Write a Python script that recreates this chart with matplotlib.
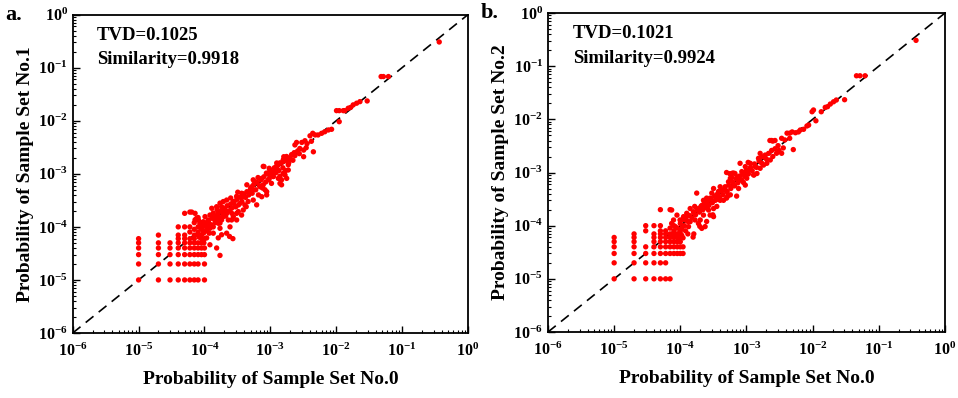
import matplotlib
matplotlib.use("Agg")
import matplotlib.pyplot as plt

plt.rcParams['font.family'] = 'serif'
plt.rcParams['font.serif'] = ['Liberation Serif', 'DejaVu Serif']
plt.rcParams['font.weight'] = 'bold'
plt.rcParams['mathtext.fontset'] = 'custom'
plt.rcParams['mathtext.rm'] = 'Liberation Serif:bold'
plt.rcParams['mathtext.bf'] = 'Liberation Serif:bold'
plt.rcParams['mathtext.it'] = 'Liberation Serif:bold:italic'

# ---- panel a: Sample Set No.0 vs No.1 ----
# low-count grid (column prob -> row probs in units of 1e-5)
grid_a = {1e-5: [1, 2, 3, 4, 5, 6],
          2e-5: [1, 2, 3, 4, 5, 7],
          3e-5: [1, 2, 3, 4, 5],
          4e-5: [1, 2, 3, 4, 5, 6, 7, 10],
          5e-5: [1, 2, 3, 4, 5, 6, 7, 10, 18],
          6e-5: [1, 2, 3, 4, 5, 6, 8, 10, 19],
          7e-5: [1, 2, 3, 4, 5, 6, 7, 9, 12],
          8e-5: [1, 2, 3, 4, 5, 7, 8, 10, 15],
          9e-5: [3, 4, 5, 6, 7, 9, 12],
          1e-4: [1, 2, 3, 4, 6, 8, 11]}

cloud_a_x = [6.4e-5, 7.6e-5, 8.1e-5, 9.6e-5, 1.02e-4, 1.14e-4, 1.21e-4, 1.29e-4, 1.44e-4, 1.53e-4,
             1.62e-4, 1.82e-4, 1.93e-4, 1.82e-4, 1.93e-4, 2.05e-4, 2.17e-4, 2.3e-4, 2.44e-4, 2.58e-4,
             2.74e-4, 2.9e-4, 3.08e-4, 3.26e-4, 3.46e-4, 3.66e-4, 3.88e-4, 3.88e-4, 4.1e-4, 4.4e-4,
             4.6e-4, 4.9e-4, 5.2e-4, 5.5e-4, 5.8e-4, 6.2e-4, 6.6e-4, 7.0e-4, 7.4e-4, 7.8e-4,
             8.3e-4, 8.8e-4, 9.3e-4, 9.9e-4, 1.04e-3, 1.11e-3, 1.17e-3, 1.32e-3, 1.4e-3, 1.57e-3,
             1.67e-3, 1.77e-3, 1.87e-3, 1.48e-3, 8.8e-4, 7.4e-4, 5.5e-4, 2.74e-4, 2.17e-4, 3.08e-4,
             1.36e-4, 1.08e-4, 8.5e-5, 7.2e-5, 1.21e-4, 1.72e-4, 2.58e-4,
             7.2e-5, 8.5e-5, 9.6e-5, 1.08e-4, 1.18e-4, 1.36e-4, 1.53e-4, 1.72e-4, 1.53e-4, 1.72e-4,
             1.36e-4, 1.62e-4, 1.82e-4, 2.17e-4, 2.4e-4, 2.7e-4, 1.53e-4, 1.72e-4, 9.6e-5, 1.08e-4,
             8.3e-5, 9.8e-5, 1.21e-4,
             7.8e-4, 8.7e-4, 9.8e-4, 1.1e-3, 1.24e-3, 1.4e-3, 1.57e-3, 1.76e-3, 1.87e-3, 1.48e-3,
             5.5e-4, 4.4e-4, 4.9e-4, 3.66e-4, 3.07e-4,
             1.0e-4, 1.1e-4, 1.15e-4, 1.25e-4, 1.3e-4, 1.4e-4, 1.45e-4, 1.6e-4, 1.7e-4, 1.75e-4,
             1.9e-4, 2.0e-4, 2.1e-4, 2.2e-4, 2.35e-4, 2.5e-4, 2.6e-4, 2.8e-4, 3.0e-4, 3.1e-4,
             3.3e-4, 3.5e-4, 3.7e-4, 3.9e-4, 4.2e-4, 4.3e-4, 4.7e-4, 5.0e-4, 5.3e-4, 5.6e-4,
             6.0e-4, 6.3e-4, 6.8e-4, 7.2e-4, 7.6e-4, 8.0e-4, 8.5e-4, 9.0e-4, 9.6e-4, 1.02e-3,
             1.08e-3, 1.15e-3, 1.22e-3, 1.3e-3, 1.35e-3, 1.45e-3, 1.55e-3, 1.65e-3, 1.9e-3, 2.0e-3,
             2.3e-3, 2.6e-3, 2.8e-3, 3.6e-3, 4.2e-3, 2.5e-4, 3.2e-4, 1.55e-4, 6.5e-4, 1.25e-3,
             0.366, 0.048, 0.052, 0.062, 0.0295, 0.0229, 0.0204, 0.0181, 0.0165, 0.0152,
             0.0135, 0.0128, 0.0101, 0.0111, 0.0111, 0.0085, 0.0076, 0.0067, 0.0060, 0.0053,
             0.0048, 0.0044, 0.0040, 0.00335, 0.0030, 0.0025, 0.00236, 0.0045, 0.0035, 0.0032,
             0.00275, 0.00236, 0.0022, 0.00187, 0.0016, 0.00157, 0.00137, 0.00125, 0.00096, 0.0008,
             0.0032, 0.0019, 0.0021, 0.0017, 0.0014]
cloud_a_y = [1.9e-4, 1.45e-4, 1.35e-4, 1.25e-4, 1.56e-4, 1.35e-4, 1.67e-4, 2.24e-4, 1.35e-4, 1.56e-4,
             1.17e-4, 1.35e-4, 1.56e-4, 2.4e-4, 3.0e-4, 2.08e-4, 1.8e-4, 1.35e-4, 1.0e-4, 2.24e-4,
             3.0e-4, 2.4e-4, 1.8e-4, 1.94e-4, 2.78e-4, 1.67e-4, 2.08e-4, 3.7e-4, 2.6e-4, 4.6e-4,
             3.0e-4, 4.6e-4, 5.7e-4, 3.2e-4, 7.1e-4, 2.6e-4, 4.0e-4, 5.7e-4, 8.2e-4, 6.2e-4,
             5.0e-4, 4.6e-4, 7.7e-4, 9.5e-4, 6.6e-4, 8.9e-4, 1.18e-3, 8.2e-4, 6.6e-4, 1.02e-3,
             9.5e-4, 8.2e-4, 1.18e-3, 6.2e-4, 4.0e-4, 3.7e-4, 5.0e-4, 1.56e-4, 3.2e-4, 1.35e-4,
             1.0e-4, 1.09e-4, 1.0e-4, 1.8e-4, 9.4e-5, 9.4e-5, 1.35e-4,
             1.36e-4, 1.18e-4, 1.02e-4, 8.8e-5, 7.6e-5, 1.82e-4, 2.4e-4, 2.8e-4, 1.36e-4, 1.18e-4,
             7.6e-5, 6.2e-5, 7.1e-5, 7.6e-5, 6.6e-5, 6.0e-5, 4.0e-5, 2.9e-5, 7.6e-5, 6.2e-5,
             6.4e-5, 5.0e-5, 4.6e-5,
             1.38e-3, 1.03e-3, 1.19e-3, 8.9e-4, 1.38e-3, 1.59e-3, 1.84e-3, 2.12e-3, 1.48e-3, 7.7e-4,
             7.7e-4, 6.2e-4, 4.7e-4, 4.3e-4, 3.75e-4,
             1.2e-4, 1.0e-4, 1.25e-4, 1.1e-4, 1.45e-4, 1.6e-4, 1.2e-4, 1.8e-4, 1.5e-4, 2.0e-4,
             1.75e-4, 2.2e-4, 1.6e-4, 2.5e-4, 2.0e-4, 2.7e-4, 1.8e-4, 2.9e-4, 2.4e-4, 3.3e-4,
             2.6e-4, 3.6e-4, 3.0e-4, 4.2e-4, 3.6e-4, 2.4e-4, 4.0e-4, 5.3e-4, 4.3e-4, 6.3e-4,
             5.0e-4, 6.9e-4, 6.0e-4, 7.7e-4, 5.4e-4, 8.8e-4, 7.0e-4, 1.0e-3, 8.0e-4, 1.1e-3,
             9.7e-4, 1.3e-3, 1.05e-3, 1.45e-3, 1.15e-3, 1.6e-3, 1.3e-3, 1.75e-3, 1.6e-3, 2.0e-3,
             2.5e-3, 2.7e-3, 3.0e-3, 3.7e-3, 4.1e-3, 3.5e-4, 4.5e-4, 2.1e-4, 8.5e-4, 1.6e-3,
             0.305, 0.068, 0.068, 0.068, 0.0236, 0.0229, 0.0214, 0.0199, 0.0178, 0.0172,
             0.0155, 0.0155, 0.0155, 0.0155, 0.0096, 0.0069, 0.0067, 0.0062, 0.0058, 0.0054,
             0.0054, 0.0058, 0.0052, 0.0042, 0.0039, 0.0039, 0.0035, 0.0026, 0.0031, 0.0028,
             0.0024, 0.0022, 0.0018, 0.0018, 0.0021, 0.0017, 0.00158, 0.00137, 0.00127, 0.00137,
             0.0021, 0.0019, 0.0023, 0.00115, 0.0009]

# ---- panel b: Sample Set No.0 vs No.2 ----
grid_b = {1e-5: [1, 2, 3, 4, 5, 6],
          2e-5: [1, 2, 3, 4, 5, 6, 7],
          3e-5: [1, 2, 3, 4, 8, 10],
          4e-5: [1, 2, 3, 4, 5, 6, 7, 10],
          5e-5: [1, 2, 3, 4, 5, 6, 7, 8, 10, 20],
          6e-5: [1, 2, 3, 4, 5, 6, 7, 8],
          7e-5: [1, 3, 4, 5, 6, 7, 9, 20],
          8e-5: [3, 4, 5, 6, 7, 8, 10],
          9e-5: [3, 4, 5, 6, 7, 9],
          1e-4: [3, 4, 5, 6, 7, 8],
          1.1e-4: [3, 4]}

cloud_b_x = [1.61e-3, 1.71e-3, 1.52e-3, 1.92e-3, 2.16e-3, 2.29e-3, 2.03e-3, 1.81e-3, 1.61e-3, 1.44e-3,
             1.28e-3, 1.36e-3, 1.14e-3, 1.07e-3, 9.6e-4, 9.0e-4, 8.0e-4, 8.5e-4, 1.01e-3, 7.2e-4,
             6.7e-4, 6.0e-4, 5.7e-4, 5.35e-4, 6.4e-4, 4.76e-4, 4.5e-4, 5.0e-4, 4.0e-4, 3.78e-4,
             3.56e-4, 3.18e-4, 2.99e-4, 2.82e-4, 3.37e-4, 4.0e-4, 4.5e-4, 2.52e-4, 2.24e-4, 2.11e-4,
             2.0e-4, 1.77e-4, 1.88e-4, 1.58e-4, 1.41e-4, 1.25e-4, 1.12e-4, 9.9e-5, 8.9e-5, 7.9e-5,
             8.4e-5, 7.4e-5, 1.18e-4, 1.41e-4, 1.67e-4, 2.0e-4, 2.24e-4, 2.67e-4, 3.18e-4, 2.82e-4,
             3.56e-4, 2.37e-4, 2.11e-4, 1.88e-4, 1.33e-4, 1.05e-4, 7.4e-5, 3.18e-4, 5.0e-4, 5.7e-4,
             7.6e-4, 8.0e-4, 9.6e-4,
             9.8e-5, 1.1e-4, 1.56e-4, 1.97e-4, 1.3e-4, 1.05e-4, 9.5e-5, 1.2e-4, 1.6e-4, 3.1e-4,
             7.1e-4, 2.5e-4, 6.3e-4, 1.06e-3, 5.0e-4, 5.6e-4,
             1.0e-4, 1.08e-4, 1.15e-4, 1.22e-4, 1.3e-4, 1.38e-4, 1.5e-4, 1.6e-4, 1.7e-4, 1.8e-4,
             1.95e-4, 2.05e-4, 2.2e-4, 2.3e-4, 2.45e-4, 2.6e-4, 2.7e-4, 2.9e-4, 3.05e-4, 3.3e-4,
             3.5e-4, 3.7e-4, 3.9e-4, 4.2e-4, 4.4e-4, 4.7e-4, 5.1e-4, 5.4e-4, 5.8e-4, 6.2e-4,
             6.6e-4, 7.0e-4, 7.4e-4, 7.9e-4, 8.4e-4, 8.9e-4, 9.4e-4, 1.0e-3, 1.07e-3, 1.15e-3,
             1.22e-3, 1.32e-3, 1.42e-3, 1.55e-3, 1.7e-3, 1.85e-3, 2.0e-3, 2.4e-3, 2.7e-3, 3.0e-3,
             3.8e-3, 4.5e-3, 2.5e-4, 1.65e-4, 6.0e-4, 9.0e-4, 1.3e-3, 5.2e-4,
             0.365, 0.046, 0.052, 0.062, 0.0304, 0.0228, 0.0207, 0.0185, 0.0168, 0.0155,
             0.0135, 0.0103, 0.0098, 0.0112, 0.0087, 0.0082, 0.0073, 0.0065, 0.0061, 0.0055,
             0.0049, 0.0045, 0.0041, 0.0034, 0.0027, 0.0024, 0.0051, 0.0034, 0.00285, 0.0025,
             0.00226, 0.0025, 0.0036, 0.0031]
cloud_b_y = [2.29e-3, 1.98e-3, 1.85e-3, 2.13e-3, 2.29e-3, 1.72e-3, 1.49e-3, 1.38e-3, 1.2e-3, 9.6e-4,
             9.0e-4, 1.29e-3, 1.49e-3, 1.11e-3, 1.29e-3, 9.6e-4, 1.49e-3, 1.04e-3, 7.8e-4, 8.3e-4,
             9.6e-4, 9.6e-4, 7.8e-4, 6.7e-4, 5.8e-4, 5.4e-4, 4.7e-4, 4.4e-4, 5.4e-4, 4.4e-4,
             3.8e-4, 5.0e-4, 4.1e-4, 3.3e-4, 3.0e-4, 3.0e-4, 3.0e-4, 2.6e-4, 3.0e-4, 2.4e-4,
             1.97e-4, 4.1e-4, 2.1e-4, 1.83e-4, 2.1e-4, 1.71e-4, 1.48e-4, 1.28e-4, 1.58e-4, 1.28e-4,
             9.6e-5, 1.1e-4, 1.28e-4, 1.19e-4, 1.28e-4, 1.28e-4, 1.58e-4, 1.97e-4, 2.1e-4, 1.58e-4,
             2.3e-4, 9.6e-5, 8.9e-5, 1.1e-4, 9.6e-5, 8.9e-5, 1.97e-4, 1.48e-4, 3.3e-4, 3.8e-4,
             5.0e-4, 7.2e-4, 5.8e-4,
             7.3e-5, 5.9e-5, 6.1e-5, 9.7e-5, 7.0e-5, 6.6e-5, 6.0e-5, 8.0e-5, 7.0e-5, 1.6e-4,
             3.6e-4, 1.2e-4, 9.8e-4, 1.55e-3, 1.0e-3, 9.5e-4,
             1.1e-4, 1.3e-4, 1.0e-4, 1.4e-4, 1.2e-4, 1.55e-4, 1.4e-4, 1.75e-4, 1.6e-4, 2.0e-4,
             1.8e-4, 2.3e-4, 2.0e-4, 2.6e-4, 2.2e-4, 2.9e-4, 2.4e-4, 3.2e-4, 2.7e-4, 3.6e-4,
             3.1e-4, 4.0e-4, 3.4e-4, 4.5e-4, 3.8e-4, 5.0e-4, 4.4e-4, 5.8e-4, 5.0e-4, 6.6e-4,
             5.6e-4, 7.6e-4, 6.4e-4, 8.6e-4, 7.3e-4, 9.8e-4, 8.4e-4, 1.1e-3, 9.4e-4, 1.25e-3,
             1.08e-3, 1.45e-3, 1.25e-3, 1.65e-3, 1.5e-3, 1.95e-3, 1.8e-3, 2.6e-3, 2.8e-3, 3.2e-3,
             4.1e-3, 4.4e-3, 3.3e-4, 2.3e-4, 8.0e-4, 6.5e-4, 9.0e-4, 3.6e-4,
             0.306, 0.066, 0.066, 0.066, 0.0234, 0.0231, 0.0214, 0.0194, 0.0173, 0.0168,
             0.0139, 0.015, 0.0139, 0.0094, 0.0078, 0.0075, 0.0065, 0.0063, 0.0058, 0.0056,
             0.0058, 0.0055, 0.0055, 0.0044, 0.004, 0.004, 0.0027, 0.0023, 0.0023, 0.002,
             0.004, 0.0039, 0.0029, 0.0026]

decades = [1e-6, 1e-5, 1e-4, 1e-3, 1e-2, 1e-1, 1e0]

panels = [
    ('a.', grid_a, cloud_a_x, cloud_a_y, 'Probability of Sample Set No.1', 'TVD=0.1025', 'Similarity=0.9918'),
    ('b.', grid_b, cloud_b_x, cloud_b_y, 'Probability of Sample Set No.2', 'TVD=0.1021', 'Similarity=0.9924'),
]
axes_pos = [[0.0759, 0.1633, 0.4126, 0.800], [0.572, 0.1658, 0.4144, 0.8015]]

fig = plt.figure(figsize=(9.58, 3.98), dpi=100)

for (tag, grid, cx, cy, ylab, t1, t2), pos in zip(panels, axes_pos):
    ax = fig.add_axes(pos)
    gx = []
    gy = []
    for col, rows in grid.items():
        for r in rows:
            gx.append(col)
            gy.append(r * 1e-5)
    ax.scatter(gx, gy, s=15, color='#ff0000', edgecolors='none', zorder=3)
    ax.scatter(cx, cy, s=15, color='#ff0000', edgecolors='none', zorder=3)
    ax.plot([1e-6, 1], [1e-6, 1], color='black', linestyle=(0, (6, 4)), linewidth=1.2, zorder=2)
    ax.set_xscale('log')
    ax.set_yscale('log')
    ax.set_xticks(decades)
    ax.set_yticks(decades)
    ax.set_xlim(1e-6, 1)
    ax.set_ylim(1e-6, 1)
    ax.tick_params(which='both', direction='in', top=False, right=False, labelsize=11.5)
    ax.tick_params(which='major', length=5, width=1)
    ax.tick_params(which='minor', length=2.5, width=0.8)
    ax.tick_params(axis='x', which='major', pad=7)
    for sp in ax.spines.values():
        sp.set_linewidth(1.3)
    ax.set_xlabel('Probability of Sample Set No.0', fontsize=14, fontweight='bold', labelpad=8)
    ax.set_ylabel(ylab, fontsize=14, fontweight='bold', labelpad=3)
    ax.text(0.062, 0.935, t1, transform=ax.transAxes, fontsize=13.5, fontweight='bold', va='center')
    ax.text(0.062, 0.858, t2, transform=ax.transAxes, fontsize=13.5, fontweight='bold', va='center')
    ax.text(-0.17, 1.0, tag, transform=ax.transAxes, fontsize=16, fontweight='bold', va='center')

fig.savefig('out.png', dpi=100)
